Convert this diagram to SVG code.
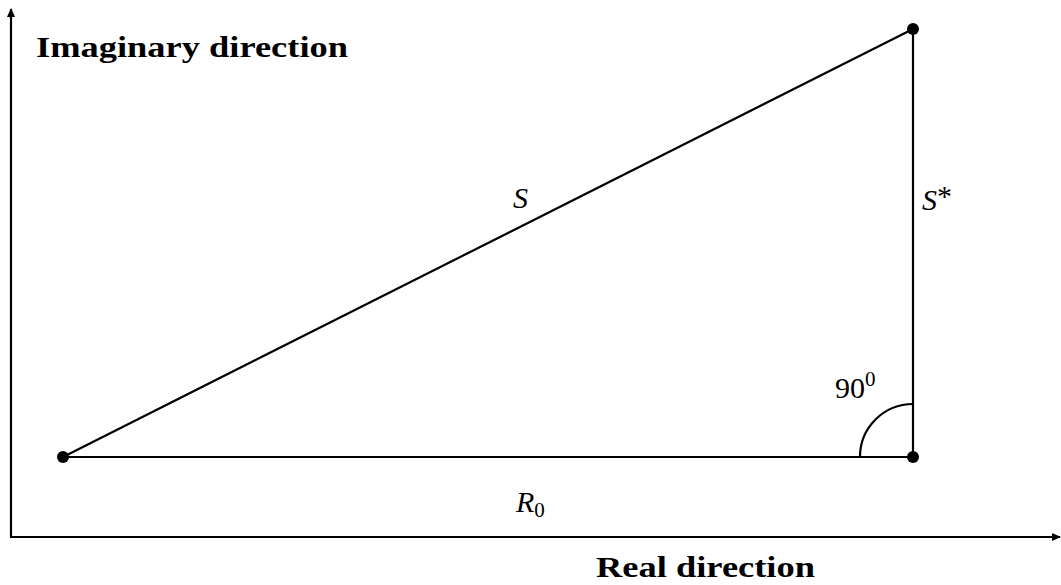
<svg xmlns="http://www.w3.org/2000/svg" width="1061" height="585" viewBox="0 0 1061 585">
<style>
.ln{stroke:#000;stroke-width:2.2;fill:none}
.lbl{font-family:'Liberation Serif','Times New Roman',Times,serif;font-weight:bold;font-size:29px;fill:#000}
.math{font-family:'Liberation Serif','Times New Roman',Times,serif;font-style:italic;font-size:30px;fill:#000}
.num{font-family:'Liberation Serif','Times New Roman',Times,serif;font-size:30px;fill:#000}
</style>
<defs>
<marker id="arr" markerWidth="10" markerHeight="10" refX="8" refY="5" orient="auto" markerUnits="userSpaceOnUse">
<path d="M0,1 L9,5 L0,9 Z" fill="#000"/>
</marker>
</defs>
<g id="axes" class="ln">
<line x1="11" y1="538" x2="11" y2="9" marker-end="url(#arr)"/>
<line x1="10" y1="537" x2="1060" y2="537" marker-end="url(#arr)"/>
</g>
<g id="connectors" class="ln">
<line x1="63" y1="457" x2="913" y2="457"/>
<line x1="913" y1="457" x2="913" y2="29"/>
<line x1="63" y1="457" x2="913" y2="29"/>
<path d="M860,457 A53,53 0 0 1 913,404"/>
</g>
<g id="p1"><circle cx="63" cy="457" r="6"/></g>
<g id="p2"><circle cx="913" cy="457" r="6"/></g>
<g id="p3"><circle cx="913" cy="29" r="6"/></g>
<text class="lbl" x="36" y="57" textLength="312" lengthAdjust="spacingAndGlyphs">Imaginary direction</text>
<text class="lbl" x="596" y="577" textLength="219" lengthAdjust="spacingAndGlyphs">Real direction</text>
<text class="math" x="513" y="208">S</text>
<text class="math" x="922" y="210">S<tspan font-style="normal" font-size="30" dy="-4">*</tspan></text>
<text class="math" x="516" y="512">R<tspan font-style="normal" font-size="21" dy="5">0</tspan></text>
<text class="num" x="835" y="398">90<tspan font-size="21" dy="-12">0</tspan></text>
</svg>
